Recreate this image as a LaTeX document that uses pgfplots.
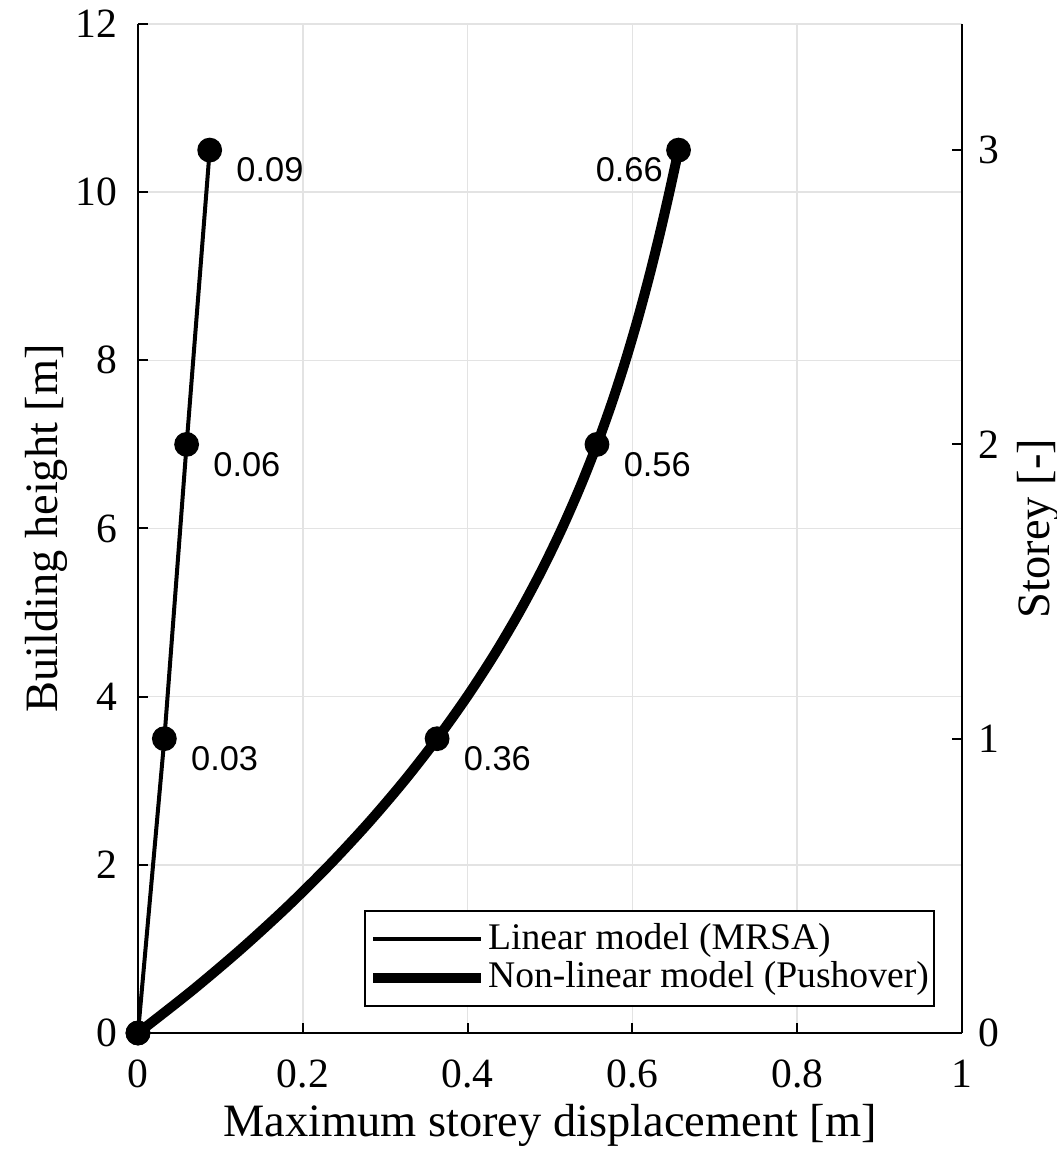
\documentclass[border=0pt]{standalone}
\usepackage{fontspec}
\setmainfont{Liberation Serif}
\newfontfamily\annfont{Liberation Sans}
\usepackage{pgfplots}
\pgfplotsset{compat=1.18}
\definecolor{gridgray}{gray}{0.89}

\begin{document}
\begin{tikzpicture}
\begin{axis}[
  scale only axis, width=206pt, height=252.25pt,
  xmin=0, xmax=1, ymin=0, ymax=12,
  xtick={0,0.2,0.4,0.6,0.8,1},
  ytick={0,2,4,6,8,10,12},
  axis x line*=bottom, axis y line*=left,
  axis line style={line width=0.5pt, black},
  tick align=inside, major tick length=2.5pt,
  tick style={black, line width=0.5pt},
  grid=major, major grid style={gridgray, line width=0.4pt},
  /pgf/number format/assume math mode=true,
  ticklabel style={font=\fontsize{10.4}{12}\selectfont},
  xticklabel style={anchor=base, yshift=-13.5pt},
  yticklabel style={anchor=east, xshift=-1.6pt},
  xlabel={Maximum storey displacement [m]},
  ylabel={Building height [m]},
  label style={font=\fontsize{11.6}{13}\selectfont},
  xlabel style={at={(axis description cs:0.5,-0.1021)}, anchor=base},
  ylabel style={at={(axis description cs:-0.0971,0.5)}, anchor=base},
  legend style={at={(axis description cs:0.9672,0.0258)}, anchor=south east,
    draw=black, line width=0.5pt, font=\fontsize{9.4}{11}\selectfont,
    inner xsep=0.8pt, inner ysep=2.6pt, row sep=0.6pt,
    nodes={inner sep=0.5pt},
    /tikz/every even column/.append style={column sep=1.25pt}},
  legend cell align=left,
  legend image code/.code={\draw[#1] (0pt,0pt) -- (27pt,0pt);},
]
\addplot[black, line width=1pt, mark=*, mark size=2.9pt, mark options={line width=0.4pt}]
  coordinates {(0,0) (0.032,3.5) (0.059,7) (0.087,10.5)};
\addlegendentry{Linear model (MRSA)}
\addplot[black, line width=2.5pt, smooth]
  coordinates {(0,0) (0.06501,0.5) (0.12528,1.0) (0.18101,1.5) (0.23244,2.0)
    (0.27977,2.5) (0.32322,3.0) (0.363,3.5) (0.39934,4.0) (0.43244,4.5)
    (0.46253,5.0) (0.48981,5.5) (0.51451,6.0) (0.53683,6.5) (0.557,7.0)
    (0.57524,7.5) (0.59175,8.0) (0.60675,8.5) (0.62046,9.0) (0.63310,9.5)
    (0.64487,10.0) (0.656,10.5)};
\addlegendentry{Non-linear model (Pushover)}
\addplot[only marks, black, mark=*, mark size=2.9pt, mark options={line width=0.4pt}, forget plot]
  coordinates {(0,0) (0.363,3.5) (0.557,7) (0.656,10.5)};
\begin{scope}[every node/.style={font=\annfont\fontsize{8.6}{10}\selectfont, inner sep=0pt}]
\node[anchor=west, xshift=6.5pt, yshift=-5pt] at (axis cs:0.087,10.5) {0.09};
\node[anchor=west, xshift=6.5pt, yshift=-5pt] at (axis cs:0.059,7) {0.06};
\node[anchor=west, xshift=6.5pt, yshift=-5pt] at (axis cs:0.032,3.5) {0.03};
\node[anchor=west, xshift=6.5pt, yshift=-5pt] at (axis cs:0.363,3.5) {0.36};
\node[anchor=west, xshift=6.5pt, yshift=-5pt] at (axis cs:0.557,7) {0.56};
\node[anchor=east, xshift=-3.75pt, yshift=-5pt] at (axis cs:0.656,10.5) {0.66};
\end{scope}
\end{axis}
\begin{axis}[
  scale only axis, width=206pt, height=252.25pt,
  xmin=0, xmax=1, ymin=0, ymax=3.428571,
  hide x axis, axis y line*=right,
  ytick={0,1,2,3},
  axis line style={line width=0.5pt, black},
  tick align=inside, major tick length=2.5pt,
  tick style={black, line width=0.5pt},
  /pgf/number format/assume math mode=true,
  ticklabel style={font=\fontsize{10.4}{12}\selectfont},
  yticklabel style={anchor=west, xshift=0.6pt},
  ylabel={Storey [-]},
  label style={font=\fontsize{11.6}{13}\selectfont},
  ylabel style={at={(axis description cs:1.106,0.5)}, anchor=base},
]
\end{axis}
\pgfresetboundingbox
\path[use as bounding box] (-34.5pt,-29.5pt) rectangle (229.5pt,258.25pt);
\end{tikzpicture}
\end{document}
